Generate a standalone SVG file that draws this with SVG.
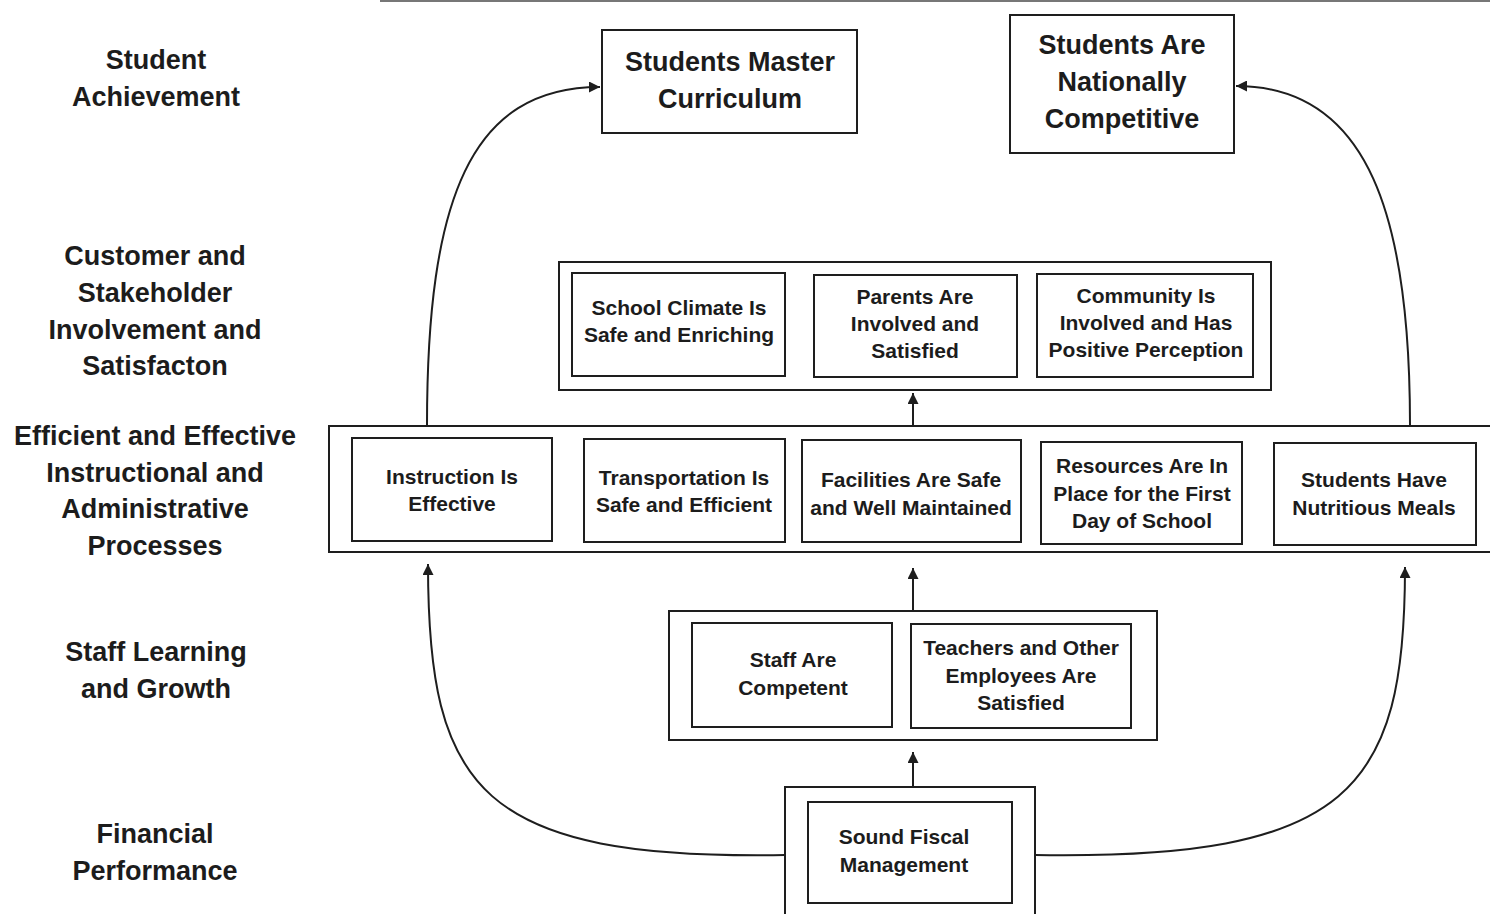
<svg xmlns="http://www.w3.org/2000/svg" width="1490" height="914" viewBox="0 0 1490 914">
<style>
.bx{fill:#fff;stroke:#1e1e1e;stroke-width:2}
.cn{fill:none;stroke:#1e1e1e;stroke-width:2}
.lb{font-family:"Liberation Sans",Arial,sans-serif;font-weight:bold;font-size:27px;fill:#1c1c1c;text-anchor:middle}
.tx{font-family:"Liberation Sans",Arial,sans-serif;font-weight:bold;font-size:21px;fill:#1c1c1c;text-anchor:middle}
</style>
<defs>
<marker id="ah" viewBox="0 0 10 10" refX="10" refY="5" markerWidth="13" markerHeight="11" markerUnits="userSpaceOnUse" orient="auto">
<path d="M0,0 L10,5 L0,10 Z" fill="#1e1e1e"/>
</marker>
</defs>
<rect width="1490" height="914" fill="#fff"/>
<line x1="380" y1="1" x2="1490" y2="1" stroke="#777" stroke-width="2"/>

<g id="labels">
<text class="lb" x="156" y="69">Student</text>
<text class="lb" x="156" y="106">Achievement</text>
<text class="lb" x="155" y="265">Customer and</text>
<text class="lb" x="155" y="302">Stakeholder</text>
<text class="lb" x="155" y="339">Involvement and</text>
<text class="lb" x="155" y="375">Satisfacton</text>
<text class="lb" x="155" y="445">Efficient and Effective</text>
<text class="lb" x="155" y="482">Instructional and</text>
<text class="lb" x="155" y="518">Administrative</text>
<text class="lb" x="155" y="555">Processes</text>
<text class="lb" x="156" y="661">Staff Learning</text>
<text class="lb" x="156" y="698">and Growth</text>
<text class="lb" x="155" y="843">Financial</text>
<text class="lb" x="155" y="880">Performance</text>
</g>

<g id="connectors">
<path class="cn" d="M427,425 C427,200 470,87 600,87" marker-end="url(#ah)"/>
<path class="cn" d="M1410,425 C1410,220 1370,86 1236,86" marker-end="url(#ah)"/>
<path class="cn" d="M785,855 C480,860 428,790 428,564" marker-end="url(#ah)"/>
<path class="cn" d="M1035,855 C1350,860 1405,790 1405,567" marker-end="url(#ah)"/>
<path class="cn" d="M913,787 L913,752" marker-end="url(#ah)"/>
<path class="cn" d="M913,611 L913,568" marker-end="url(#ah)"/>
<path class="cn" d="M913,426 L913,393" marker-end="url(#ah)"/>
</g>

<g id="n-master">
<rect class="bx" x="602" y="30" width="255" height="103"/>
<text class="lb" x="730" y="71">Students Master</text>
<text class="lb" x="730" y="108">Curriculum</text>
</g>
<g id="n-competitive">
<rect class="bx" x="1010" y="15" width="224" height="138"/>
<text class="lb" x="1122" y="54">Students Are</text>
<text class="lb" x="1122" y="91">Nationally</text>
<text class="lb" x="1122" y="128">Competitive</text>
</g>

<g id="n-customer">
<rect class="bx" x="559" y="262" width="712" height="128"/>
<g id="n-climate">
<rect class="bx" x="572" y="273" width="213" height="103"/>
<text class="tx" x="679" y="315">School Climate Is</text>
<text class="tx" x="679" y="342">Safe and Enriching</text>
</g>
<g id="n-parents">
<rect class="bx" x="814" y="275" width="203" height="102"/>
<text class="tx" x="915" y="304">Parents Are</text>
<text class="tx" x="915" y="331">Involved and</text>
<text class="tx" x="915" y="358">Satisfied</text>
</g>
<g id="n-community">
<rect class="bx" x="1037" y="274" width="216" height="103"/>
<text class="tx" x="1146" y="303">Community Is</text>
<text class="tx" x="1146" y="330">Involved and Has</text>
<text class="tx" x="1146" y="357">Positive Perception</text>
</g>
</g>

<g id="n-processes">
<rect class="bx" x="329" y="426" width="1180" height="126"/>
<g id="n-instruction">
<rect class="bx" x="352" y="438" width="200" height="103"/>
<text class="tx" x="452" y="484">Instruction Is</text>
<text class="tx" x="452" y="511">Effective</text>
</g>
<g id="n-transport">
<rect class="bx" x="584" y="439" width="201" height="103"/>
<text class="tx" x="684" y="485">Transportation Is</text>
<text class="tx" x="684" y="512">Safe and Efficient</text>
</g>
<g id="n-facilities">
<rect class="bx" x="802" y="440" width="219" height="102"/>
<text class="tx" x="911" y="487">Facilities Are Safe</text>
<text class="tx" x="911" y="515">and Well Maintained</text>
</g>
<g id="n-resources">
<rect class="bx" x="1041" y="442" width="201" height="102"/>
<text class="tx" x="1142" y="473">Resources Are In</text>
<text class="tx" x="1142" y="501">Place for the First</text>
<text class="tx" x="1142" y="528">Day of School</text>
</g>
<g id="n-meals">
<rect class="bx" x="1274" y="443" width="202" height="102"/>
<text class="tx" x="1374" y="487">Students Have</text>
<text class="tx" x="1374" y="515">Nutritious Meals</text>
</g>
</g>

<g id="n-staff">
<rect class="bx" x="669" y="611" width="488" height="129"/>
<g id="n-competent">
<rect class="bx" x="692" y="623" width="200" height="104"/>
<text class="tx" x="793" y="667">Staff Are</text>
<text class="tx" x="793" y="695">Competent</text>
</g>
<g id="n-teachers">
<rect class="bx" x="911" y="624" width="220" height="104"/>
<text class="tx" x="1021" y="655">Teachers and Other</text>
<text class="tx" x="1021" y="683">Employees Are</text>
<text class="tx" x="1021" y="710">Satisfied</text>
</g>
</g>

<g id="n-fiscal">
<rect class="bx" x="785" y="787" width="250" height="140"/>
<rect class="bx" x="808" y="802" width="204" height="101"/>
<text class="tx" x="904" y="844">Sound Fiscal</text>
<text class="tx" x="904" y="872">Management</text>
</g>
</svg>
